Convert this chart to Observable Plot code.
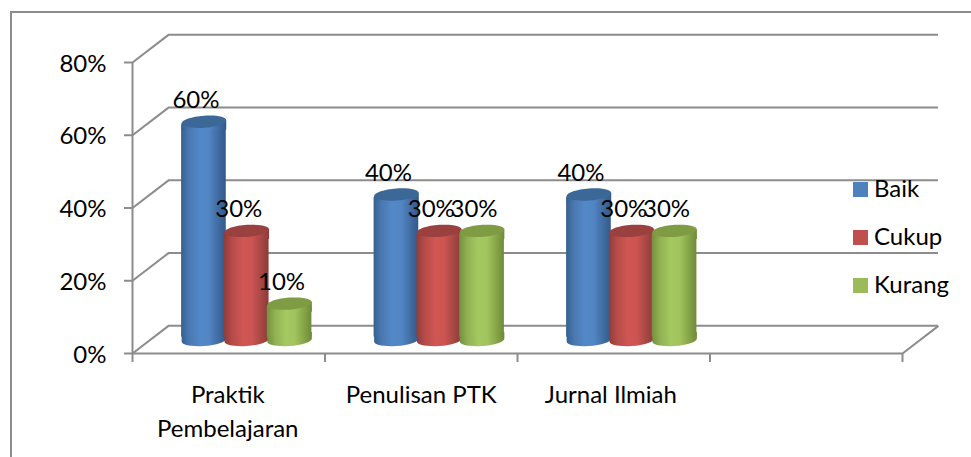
<!DOCTYPE html>
<html><head><meta charset="utf-8">
<script src="https://cdn.jsdelivr.net/npm/d3@7"></script>
<script src="https://cdn.jsdelivr.net/npm/@observablehq/plot@0.6"></script>
<style>
html,body{margin:0;padding:0;background:#fff;overflow:hidden}
#wrap{position:relative;width:971px;height:457px;font-family:Lato,sans-serif;color:#000}
#border{position:absolute;left:10px;top:10.5px;width:961px;height:447px;border-left:2.4px solid #8c8c8c;border-top:2px solid #8c8c8c;box-sizing:border-box}
#legend{position:absolute;left:853px;top:165px}
.item{position:absolute;left:0;white-space:nowrap;font-size:24px;line-height:28px}
.item i{position:absolute;left:0;top:7px;width:15px;height:15px}
.item span{position:absolute;left:21px;top:-1px}
</style></head>
<body><div id="wrap"><div id="border"></div><div id="plot"></div><div id="legend"></div></div>
<script>
const categories = ["Praktik\nPembelajaran", "Penulisan PTK", "Jurnal Ilmiah", ""];
const seriesNames = ["Baik", "Cukup", "Kurang"];
const baik = [60, 40, 40];
const cukup = [30, 30, 30];
const kurang = [10, 30, 30];
const yTicks = [0, 20, 40, 60, 80];
const swatches = ["#4f81bd", "#c0504d", "#9bbb59"];
const bodyStops = [
  ["#36608f", "#4a79b2", "#5388c8", "#5185c3", "#3f6a9f", "#335a88"],
  ["#913c3a", "#b54c49", "#d05653", "#cc5451", "#a44644", "#8c3a38"],
  ["#74903f", "#91b152", "#a5c861", "#a2c45e", "#83a246", "#6f8a3a"]
];
const capColors = ["#3c6898", "#9a403e", "#7f9c45"];
const axisGray = "#8c8c8c";

// 3D geometry of the box, in data units
const depthX = 0.187, depthY = 7.6;
const barHalf = 0.116, barStep = 0.2224, edgeInset = 0.8, baseLevel = 3.71;

const values = [baik, cukup, kurang];
const rows = seriesNames.map((name, s) => values[s].map((v, c) => ({
  name, v, s,
  x: c + 0.5 + depthX / 2 + (s - 1) * barStep
})));

// Symbols for the tilted ends of a cylinder; the tilt is a vertical shear.
const tilt = 0.07, squash = 0.27, kappa = 0.5523, band = 0.36;
const sheared = (rx) => (x, y) => [x, y - x * tilt];
const curve = (ctx, m, a, b, c) => ctx.bezierCurveTo(...m(...a), ...m(...b), ...m(...c));
const fullEnd = {
  draw(ctx, size) {
    const rx = Math.sqrt(size / Math.PI), ry = rx * squash, k = kappa, m = sheared(rx);
    ctx.moveTo(...m(-rx, 0));
    curve(ctx, m, [-rx, -ry * k], [-rx * k, -ry], [0, -ry]);
    curve(ctx, m, [rx * k, -ry], [rx, -ry * k], [rx, 0]);
    curve(ctx, m, [rx, ry * k], [rx * k, ry], [0, ry]);
    curve(ctx, m, [-rx * k, ry], [-rx, ry * k], [-rx, 0]);
    ctx.closePath();
  }
};
const baseEnd = {
  draw(ctx, size) {
    const rx = Math.sqrt(size / Math.PI), ry = rx * squash, k = kappa, m = sheared(rx), h = rx * band;
    ctx.moveTo(-rx, -h);
    ctx.lineTo(rx, -h);
    ctx.lineTo(...m(rx, 0));
    curve(ctx, m, [rx, ry * k], [rx * k, ry], [0, ry]);
    curve(ctx, m, [-rx * k, ry], [-rx, ry * k], [-rx, 0]);
    ctx.closePath();
  }
};
const shoulder = {
  draw(ctx, size) {
    const rx = Math.sqrt(size / Math.PI), m = sheared(rx), h = rx * band;
    ctx.moveTo(...m(-rx, 0));
    ctx.lineTo(...m(rx, 0));
    ctx.lineTo(rx, h);
    ctx.lineTo(-rx, h);
    ctx.closePath();
  }
};

const gradients = () => {
  const svgns = "http://www.w3.org/2000/svg";
  const defs = document.createElementNS(svgns, "defs");
  bodyStops.forEach((stops, s) => {
    const g = document.createElementNS(svgns, "linearGradient");
    g.setAttribute("id", "body" + s);
    [0, 0.18, 0.42, 0.62, 0.85, 1].forEach((o, i) => {
      const st = document.createElementNS(svgns, "stop");
      st.setAttribute("offset", o);
      st.setAttribute("stop-color", stops[i]);
      g.appendChild(st);
    });
    defs.appendChild(g);
  });
  return defs;
};

const R = 22.3;
const cylinders = rows.flatMap((data, s) => [
  Plot.dot(data, {x: "x", y: () => baseLevel, r: R, symbol: baseEnd, fill: `url(#body${s})`}),
  Plot.rect(data, {x1: d => d.x - barHalf, x2: d => d.x + barHalf, y1: () => baseLevel + edgeInset, y2: d => d.v + baseLevel - edgeInset, fill: `url(#body${s})`}),
  Plot.dot(data, {x: "x", y: d => d.v + baseLevel, r: R, symbol: shoulder, fill: `url(#body${s})`}),
  Plot.dot(data, {x: "x", y: d => d.v + baseLevel, r: R, symbol: fullEnd, fill: capColors[s]})
]);

const chart = Plot.plot({
  width: 971, height: 457,
  marginLeft: 132, marginRight: 69, marginTop: 62, marginBottom: 104,
  style: {fontFamily: 'Lato, sans-serif', background: "transparent", color: "#000"},
  x: {domain: [0, 4]},
  y: {domain: [0, 80]},
  marks: [
    gradients,
    Plot.ruleY(yTicks, {y: d => d + depthY, x1: depthX, x2: 4 + depthX, stroke: axisGray, strokeWidth: 2}),
    Plot.link(yTicks, {x1: 0, x2: depthX, y1: d => d, y2: d => d + depthY, stroke: axisGray, strokeWidth: 2}),
    Plot.link([4], {x1: 4, x2: 4 + depthX, y1: 0, y2: depthY, stroke: axisGray, strokeWidth: 2}),
    Plot.ruleX([0], {y1: 0, y2: 80, stroke: axisGray, strokeWidth: 2}),
    Plot.ruleY([0], {x1: 0, x2: 4, stroke: axisGray, strokeWidth: 2}),
    Plot.axisY({ticks: yTicks, label: null, tickSize: 8, tickFormat: () => "", stroke: axisGray, strokeWidth: 2}),
    Plot.axisY({ticks: yTicks, label: null, tickSize: 0, tickPadding: 26, tickFormat: d => d + "%", fill: "#000", fontSize: 24, dy: 1.5}),
    Plot.axisX({ticks: [0, 1, 2, 3, 4], label: null, tickSize: 9, tickFormat: () => "", stroke: axisGray, strokeWidth: 2}),
    Plot.axisX({ticks: [0.495, 1.5, 2.485], label: null, tickSize: 0, tickPadding: 25, tickFormat: d => categories[Math.floor(d)], fill: "#000", fontSize: 24, lineHeight: 1.42}),
    ...cylinders,
    Plot.text(rows.flat(), {x: "x", y: "v", text: d => d.v + "%", dx: -8, dy: -35, fontSize: 24, fill: "#000"})
  ]
});
document.getElementById("plot").appendChild(chart);

const legend = document.getElementById("legend");
seriesNames.forEach((name, i) => {
  const it = document.createElement("div");
  it.className = "item";
  it.style.top = (10 + i * 48) + "px";
  it.innerHTML = `<i style="background:${swatches[i]}"></i><span>${name}</span>`;
  legend.appendChild(it);
});
</script></body></html>
